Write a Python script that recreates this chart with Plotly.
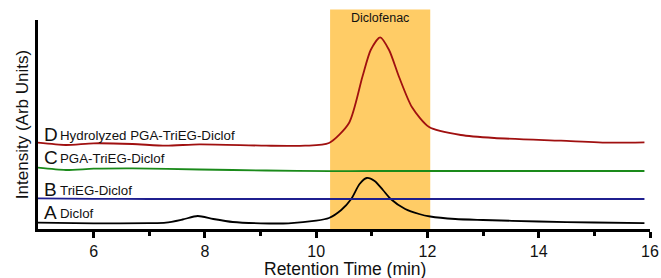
import plotly.graph_objects as go

# Retention time (min) and intensity (arb units)
t_A = [5.0, 6.0, 7.0, 7.3, 7.6, 7.87, 8.15, 8.5, 9.0, 9.5, 10.0, 10.23, 10.45, 10.63, 10.78, 10.91,
       11.05, 11.2, 11.34, 11.6, 11.85, 12.05, 12.5, 13.0, 14.0, 15.0, 15.9]
y_A = [6.3, 5.7, 5.8, 6.3, 9.5, 13.0, 10.0, 7.0, 5.7, 5.7, 8.3, 11.0, 19.0, 30.0, 45.0, 51.0,
       48.0, 39.0, 30.0, 20.0, 15.0, 12.5, 10.0, 9.0, 7.5, 6.5, 5.8]

t_B = [5.0, 6.0, 7.0, 8.0, 9.0, 10.0, 11.0, 12.0, 13.0, 14.0, 15.0, 15.9]
y_B = [30.6, 30.2, 30.0, 30.0, 30.0, 30.0, 30.0, 30.0, 30.0, 30.0, 30.0, 30.0]

t_C = [5.0, 5.5, 6.0, 6.7, 7.9, 9.1, 10.25, 11.0, 12.0, 13.0, 14.0, 15.0, 15.9]
y_C = [61.3, 59.0, 60.3, 60.7, 59.5, 58.5, 57.8, 58.0, 58.0, 58.0, 58.0, 58.0, 58.0]

t_D = [5.0, 5.5, 6.0, 6.7, 7.3, 7.9, 9.1, 9.8, 10.23, 10.59, 10.83, 10.98, 11.15, 11.31, 11.49,
       11.72, 12.03, 12.6, 13.2, 14.4, 15.3, 15.9]
y_D = [86.3, 84.0, 85.7, 85.0, 83.3, 84.7, 83.3, 83.3, 86.0, 106.0, 152.0, 179.0, 191.7, 179.0, 152.0,
       122.0, 102.0, 94.0, 91.0, 88.3, 86.3, 86.7]

band = [10.25, 12.05]
band_label = "Diclofenac"

labels = ["A", "B", "C", "D"]
names = ["Diclof", "TriEG-Diclof", "PGA-TriEG-Diclof", "Hydrolyzed PGA-TriEG-Diclof"]
label_y = [17, 40, 72, 95]

x_ticks = [6, 8, 10, 12, 14, 16]
x_title = "Retention Time (min)"
y_title = "Intensity (Arb Units)"

colors = ["#000000", "#1f1f8f", "#1a8a1a", "#a01010"]

fig = go.Figure()

fig.add_shape(type="rect", xref="x", yref="paper", x0=band[0], x1=band[1], y0=0, y1=1.05,
              fillcolor="#FFCC66", line_width=0, layer="below")

for t, y, c in [(t_A, y_A, colors[0]), (t_B, y_B, colors[1]), (t_C, y_C, colors[2]), (t_D, y_D, colors[3])]:
    fig.add_trace(go.Scatter(x=t, y=y, mode="lines", line=dict(color=c, width=1.8, shape="spline", smoothing=0.7),
                             showlegend=False, hoverinfo="skip", cliponaxis=False))

for lab, nm, ly in zip(labels, names, label_y):
    fig.add_annotation(x=5.08, y=ly, xref="x", yref="y", text=lab, showarrow=False, xanchor="left",
                       yanchor="middle", font=dict(family="Liberation Sans, Arial", size=19, color="#111"))
    fig.add_annotation(x=5.36, y=ly - 1.5, xref="x", yref="y", text=nm, showarrow=False, xanchor="left",
                       yanchor="middle", font=dict(family="Liberation Sans, Arial", size=13.3, color="#111"))

fig.add_annotation(x=(band[0] + band[1]) / 2, y=1.01, xref="x", yref="paper", text=band_label,
                   showarrow=False, yanchor="middle", font=dict(family="Liberation Sans, Arial", size=12.5, color="#111"))

# x-axis title placed precisely below tick labels
fig.add_annotation(x=0.501, y=-0.193, xref="paper", yref="paper", text=x_title, showarrow=False,
                   xanchor="center", yanchor="middle", font=dict(family="Liberation Sans, Arial", size=17.5, color="#111"))

fig.update_layout(
    width=661, height=278,
    margin=dict(l=38, r=11, t=20, b=49, autoexpand=False),
    paper_bgcolor="white", plot_bgcolor="white",
    font=dict(family="Liberation Sans, Arial", color="#111"),
    xaxis=dict(range=[5, 16], tickvals=x_ticks, ticks="outside", ticklen=6, tickwidth=2.5, tickcolor="black",
               showline=True, linewidth=3, linecolor="black", showgrid=False, zeroline=False, automargin=False,
               tickfont=dict(size=16), ticklabelstandoff=0,
               minor=dict(tickvals=[7, 9, 11, 13, 15], ticks="outside", ticklen=4, tickwidth=2.5, tickcolor="black")),
    yaxis=dict(range=[0, 209], showticklabels=False, ticks="", showline=True, linewidth=3, linecolor="black",
               showgrid=False, zeroline=False, automargin=False,
               title=dict(text=y_title, font=dict(size=17), standoff=3)),
)

fig.write_html("out.html", config={"displayModeBar": False},
               post_script="document.body.style.margin='0px';document.body.style.overflow='hidden';")
